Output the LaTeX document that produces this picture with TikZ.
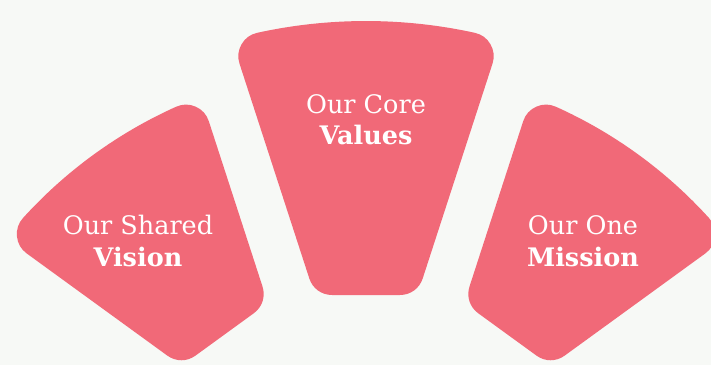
\documentclass[tikz,border=0pt]{standalone}
\usepackage{fontspec}
\setmainfont{DejaVu Serif}
\usetikzlibrary{positioning}
\definecolor{petalpink}{RGB}{241,105,120}
\definecolor{paper}{RGB}{247,249,246}

\begin{document}
\begin{tikzpicture}[x=1pt, y=1pt,
    every node/.style={font=\fontsize{25.5}{31}\selectfont, text=white, inner sep=0pt},
    petal/.style={fill=petalpink, draw=petalpink, line width=48pt, line join=round}]
    % Canvas
    \fill[paper] (0,0) rectangle (711,365);
    \clip (0,0) rectangle (711,365);

    % Petals: 36 degree slices round a hub below the canvas, shrunk by the
    % corner radius (24) and stroked with round joins to round the corners
    \begin{scope}[shift={(366,-164)}]
    \foreach \mid/\rout/\hh in {90/508/234, 126/463/240.5, 54/463/240.5} {
        \pgfmathsetmacro{\ro}{\rout-24}
        \pgfmathsetmacro{\hin}{\hh+24}
        \pgfmathsetmacro{\xin}{(\hin-47.5*sin(18))/cos(18)*sin(18)-47.5*cos(18)}
        \pgfmathsetmacro{\angout}{asin(47.5/\ro)}
        \filldraw[petal, rotate=\mid-90]
            (\xin,\hin) -- (72+\angout:\ro)
            arc[start angle=72+\angout, end angle=108-\angout, radius=\ro]
            -- (-\xin,\hin) -- cycle;
    }
    \end{scope}

    % Labels
    \node[anchor=base] (core) at (366,251.5) {Our Core};
    \node[anchor=base] (values) at (366,220.5) {\textbf{Values}};
    \node[anchor=base] (shared) at (138,130.5) {Our Shared};
    \node[anchor=base] (vision) at (138,98.5) {\textbf{Vision}};
    \node[anchor=base] (one) at (583,130.5) {Our One};
    \node[anchor=base] (mission) at (583,98.5) {\textbf{Mission}};
\end{tikzpicture}
\end{document}
